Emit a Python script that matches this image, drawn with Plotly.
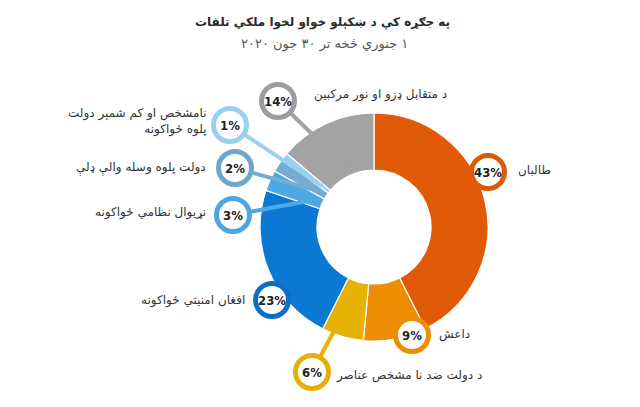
import math
import plotly.graph_objects as go

# ---- data ----
categories = [
    "طالبان",
    "داعش",
    "د دولت ضد نا مشخص عناصر",
    "افغان امنيتي ځواکونه",
    "نړیوال نظامي ځواکونه",
    "دولت پلوه وسله والې ډلې",
    "نامشخص او کم شمېر دولت<br>پلوه ځواکونه",
    "د متقابل ډزو او نور مرکبين",
]
values = [43, 9, 6, 23, 3, 2, 1, 14]
pct_labels = ["43%", "9%", "6%", "23%", "3%", "2%", "1%", "14%"]

title_text = "په جګړه کې د ښکېلو خواو لخوا ملکي تلفات"
subtitle_text = "۱ جنوري څخه تر ۳۰ جون ۲۰۲۰"

# ---- styles / layout ----
colors = ["#E15A08", "#EE8C02", "#E6B205", "#0B78D3", "#4CA9E6", "#74ADD0", "#9DD0EF", "#A3A3A3"]
ring_colors = ["#DC5A0C", "#EC8E04", "#E2B009", "#0A6FC6", "#4AA7E2", "#6FA7CA", "#9AD0EE", "#9C9C9C"]

W, H = 640, 407
CX, CY, R = 374, 227, 114
HOLE = 0.5

# callout circle centres (px) and label placement
callout_pos = [(488, 172), (412, 335), (312, 372), (272, 300), (233, 215), (235, 168), (230, 125), (278, 101)]
label_pos = [(516, 170, "left"), (437, 334, "left"), (334, 375, "left"), (247, 300, "right"),
             (208, 212, "right"), (208, 168, "right"), (208, 122, "right"), (312, 94, "left")]
CIRCLE_R = 16.5
RING_W = 5


def px(x):
    return x / W


def py(y):
    return 1 - y / H


def rtl(s):
    return "\u202b" + s + "\u202c"


fig = go.Figure()
fig.add_trace(go.Pie(
    values=values,
    labels=categories,
    sort=False,
    direction="clockwise",
    rotation=0,
    hole=HOLE,
    marker=dict(colors=colors, line=dict(color="white", width=1.2)),
    textinfo="none",
    hoverinfo="label+percent",
    showlegend=False,
    domain=dict(x=[px(CX - R), px(CX + R)], y=[py(CY + R), py(CY - R)]),
))

shapes = []
annotations = []
total = sum(values)
cum = 0
for i, v in enumerate(values):
    mid = 2 * math.pi * (cum + v / 2) / total
    cum += v
    r_end = R * (HOLE + 0.08)
    ex = CX + r_end * math.sin(mid)
    ey = CY - r_end * math.cos(mid)
    cx, cy = callout_pos[i]
    shapes.append(dict(type="line", xref="paper", yref="paper",
                       x0=px(cx), y0=py(cy), x1=px(ex), y1=py(ey),
                       line=dict(color=colors[i], width=4), layer="above"))
for i in range(len(values)):
    cx, cy = callout_pos[i]
    shapes.append(dict(type="circle", xref="paper", yref="paper",
                       x0=px(cx - CIRCLE_R), x1=px(cx + CIRCLE_R),
                       y0=py(cy + CIRCLE_R), y1=py(cy - CIRCLE_R),
                       fillcolor="white", line=dict(color=ring_colors[i], width=RING_W), layer="above"))
    annotations.append(dict(x=px(cx), y=py(cy + 0.5), xref="paper", yref="paper",
                            xanchor="center", yanchor="middle",
                            text="<b>" + pct_labels[i] + "</b>", showarrow=False,
                            font=dict(family="DejaVu Sans Condensed, Liberation Sans Narrow, sans-serif",
                                      size=13, color="#222222")))
    lx, ly, anchor = label_pos[i]
    annotations.append(dict(x=px(lx), y=py(ly), xref="paper", yref="paper",
                            xanchor=anchor, yanchor="middle",
                            text="<br>".join(rtl(p) for p in categories[i].split("<br>")),
                            showarrow=False, align="right",
                            font=dict(family="DejaVu Sans", size=12, color="#333333")))

annotations.append(dict(x=px(322), y=py(22), xref="paper", yref="paper", xanchor="center", yanchor="middle",
                        text="<b>" + rtl(title_text) + "</b>",
                        showarrow=False, font=dict(family="DejaVu Sans", size=12, color="#2a2a2a")))
annotations.append(dict(x=px(324), y=py(44), xref="paper", yref="paper", xanchor="center", yanchor="middle",
                        text=rtl(subtitle_text),
                        showarrow=False, font=dict(family="DejaVu Sans", size=13, color="#555555")))

fig.update_layout(
    width=W, height=H,
    margin=dict(l=0, r=0, t=0, b=0),
    paper_bgcolor="white", plot_bgcolor="white",
    shapes=shapes, annotations=annotations,
)
fig.write_html("out.html", config={"displayModeBar": False},
               post_script="document.body.style.margin='0';document.body.style.padding='0';")
